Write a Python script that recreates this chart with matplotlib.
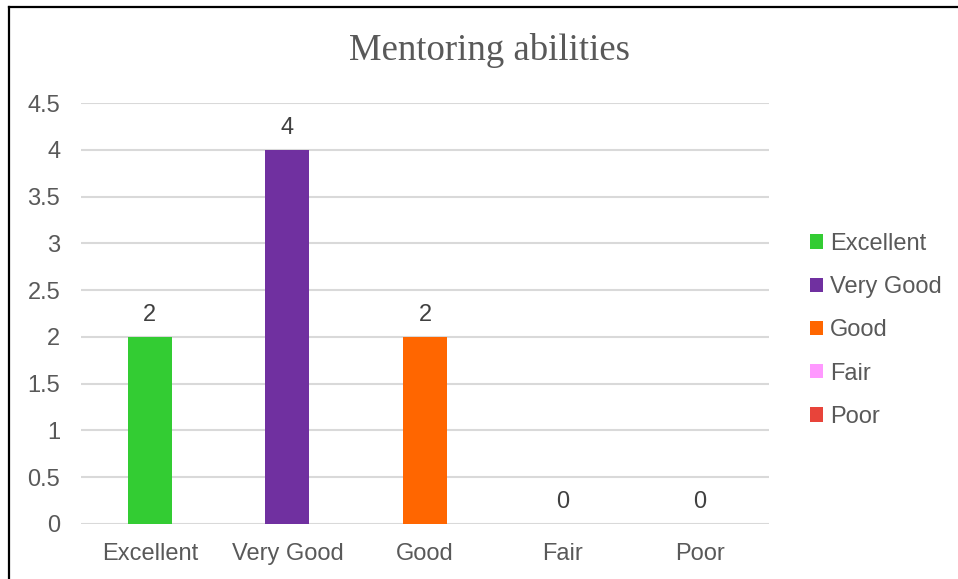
import matplotlib.pyplot as plt
from matplotlib.lines import Line2D

categories = ['Excellent', 'Very Good', 'Good', 'Fair', 'Poor']
counts = [2, 4, 2, 0, 0]
colors = ['#33CC33', '#7030A0', '#FF6600', '#FF99FF', '#E8443A']
yticks = [0, 0.5, 1, 1.5, 2, 2.5, 3, 3.5, 4, 4.5]

plt.rcParams['font.family'] = ['Liberation Sans', 'DejaVu Sans']

fig = plt.figure(figsize=(9.58, 5.79), dpi=100)
ax = fig.add_axes([0.0846, 0.095, 0.718, 0.727])

for i, (cat, val, col) in enumerate(zip(categories, counts, colors)):
    ax.bar(i, val, width=0.32, color=col, label=cat, zorder=3)
    ax.annotate(str(val), (i, val), xytext=(0, 8), textcoords='offset points',
                ha='center', va='bottom', fontsize=17, color='#404040')

ax.set_xlim(-0.5, 4.5)
ax.set_ylim(0, 4.5)
ax.set_yticks(yticks)
ax.set_yticklabels(['0', '0.5', '1', '1.5', '2', '2.5', '3', '3.5', '4', '4.5'])
ax.set_xticks(range(len(categories)))
ax.set_xticklabels(categories)
ax.tick_params(axis='both', length=0, labelsize=17, labelcolor='#595959')
ax.tick_params(axis='y', pad=15)
ax.tick_params(axis='x', pad=14)
ax.grid(axis='y', color='#D9D9D9', linewidth=1.5, zorder=0)
for s in ax.spines.values():
    s.set_visible(False)

fig.text(0.511, 0.913, 'Mentoring abilities', ha='center', va='center',
         fontsize=26.5, color='#595959', family='Liberation Serif')

leg = ax.legend(loc='center left', bbox_to_anchor=(1.029, 0.46), frameon=False,
                fontsize=17, handlelength=0.55, handleheight=0.55,
                handletextpad=0.3, labelspacing=0.9, labelcolor='#595959')

# outer frame (top and left edges)
fig.add_artist(Line2D([9 / 958, 1.0], [1 - 7 / 579, 1 - 7 / 579],
                      transform=fig.transFigure, color='black', linewidth=1.6))
fig.add_artist(Line2D([9 / 958, 9 / 958], [0, 1 - 7 / 579],
                      transform=fig.transFigure, color='black', linewidth=1.6))

fig.savefig('out.png', dpi=100, facecolor='white')
